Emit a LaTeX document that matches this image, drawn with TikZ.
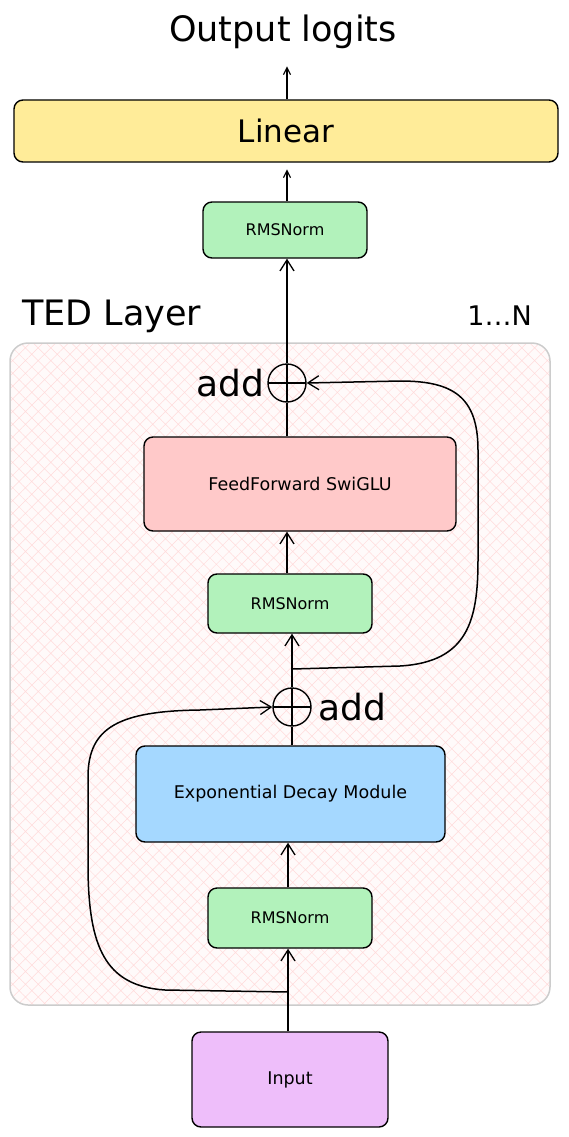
\documentclass[tikz,border=0pt]{standalone}
\usepackage{fontspec}
\setmainfont{DejaVu Sans}
\usepackage{tikz}
\usetikzlibrary{arrows.meta, patterns.meta, positioning}
\definecolor{linyel}{HTML}{FFEC99}
\definecolor{normgr}{HTML}{B2F2BB}
\definecolor{ffred}{HTML}{FFC9C9}
\definecolor{edblue}{HTML}{A5D8FF}
\definecolor{inpur}{HTML}{EEBEFA}
\tikzset{
  % a block of the network
  blk/.style   = {draw, line width=1.4pt, rounded corners=9pt, align=center,
                  inner sep=2pt},
  % a sum junction
  sumnode/.style = {draw, circle, line width=1.4pt, minimum size=38pt,
                  inner sep=0pt,
                  path picture={\draw[line width=1.2pt]
                    (path picture bounding box.north) -- (path picture bounding box.south)
                    (path picture bounding box.west) -- (path picture bounding box.east);}},
  % a data flow
  tr/.style    = {-{Straight Barb[length=11pt,width=14pt,line width=1.3pt]},
                  line width=1.5pt},
  trs/.style   = {-{Straight Barb[length=7pt,width=7pt,line width=1.2pt]},
                  line width=1.3pt},
  ln/.style    = {line width=1.5pt},
  % labels
  ttl/.style   = {font=\fontsize{35}{38}\selectfont, inner sep=0pt},
  rep/.style   = {font=\fontsize{27}{30}\selectfont, inner sep=0pt},
  lbl/.style   = {font=\fontsize{36}{38}\selectfont, inner sep=0pt},
  big/.style   = {font=\fontsize{31}{34}\selectfont},
  small/.style = {font=\fontsize{16}{18}\selectfont},
  mid/.style   = {font=\fontsize{17.5}{20}\selectfont},
}
\begin{document}
\begin{tikzpicture}[x=1pt, y=-1pt]
  \useasboundingbox (0,0) rectangle (568,1137);
  % --- the repeated layer ---
  \draw[line width=1.5pt, draw=black!20, rounded corners=18pt,
        preaction={fill=red!2},
        pattern={Hatch[angle=45,distance=9pt,line width=0.5pt]},
        pattern color=red!14] (10,343) rectangle (550,1005);
  \node[ttl, anchor=west] (ted) at (22,316) {TED Layer};
  \node[rep, anchor=east] (reps) at (532,316) {1\dots N};
  % --- blocks ---
  \node[ttl] (out) at (283,32) {Output logits};
  \node[blk, fill=linyel, big, minimum width=544pt, minimum height=62pt]
    (lin) at (286,131) {Linear};
  \node[blk, fill=normgr, small, minimum width=164pt, minimum height=56pt]
    (rmsT) at (285,230) {RMSNorm};
  \node[sumnode] (addT) at (287,383) {};
  \node[lbl, left=3pt of addT] (addTl) {add};
  \node[blk, fill=ffred, mid, minimum width=312pt, minimum height=94pt]
    (ff) at (300,484) {FeedForward SwiGLU};
  \node[blk, fill=normgr, small, minimum width=164pt, minimum height=59pt]
    (rmsM) at (290,603.5) {RMSNorm};
  \node[sumnode] (addB) at (292,707) {};
  \node[lbl, right=7pt of addB] (addBl) {add};
  \node[blk, fill=edblue, mid, minimum width=309pt, minimum height=96pt]
    (edm) at (290.5,794) {Exponential Decay Module};
  \node[blk, fill=normgr, small, minimum width=164pt, minimum height=60pt]
    (rmsB) at (290,918) {RMSNorm};
  \node[blk, fill=inpur, mid, minimum width=196pt, minimum height=95pt]
    (inp) at (290,1079.5) {Input};
  % --- residual taps ---
  \coordinate (tapT) at (292,669);
  \coordinate (tapB) at (288,992);
  % --- main path ---
  \draw[tr] (inp.north -| tapB) -- (rmsB.south -| tapB);
  \draw[tr] (rmsB.north -| tapB) -- (edm.south -| tapB);
  \draw[ln] (edm.north -| addB) -- (addB.south);
  \draw[tr] (addB.north) -- (rmsM.south -| addB);
  \draw[tr] (rmsM.north -| addT) -- (ff.south -| addT);
  \draw[ln] (ff.north -| addT) -- (addT.south);
  \draw[tr] (addT.north) -- (rmsT.south -| addT);
  \draw[trs] (rmsT.north -| addT) -- ++(0,-32);
  \draw[trs] (lin.north -| addT) -- ++(0,-33);
  % --- skips ---
  \draw[tr] (tapT) -- (400,666) .. controls (468,662) and (478,620) .. (478,560)
    -- (478,450) .. controls (478,396) and (452,381) .. (400,381) -- (addT.east);
  \draw[tr] (tapB) -- (165,990) .. controls (104,986) and (89,945) .. (88,870)
    -- (88,775) .. controls (89,728) and (118,711) .. (200,710) -- (addB.west);
\end{tikzpicture}
\end{document}
